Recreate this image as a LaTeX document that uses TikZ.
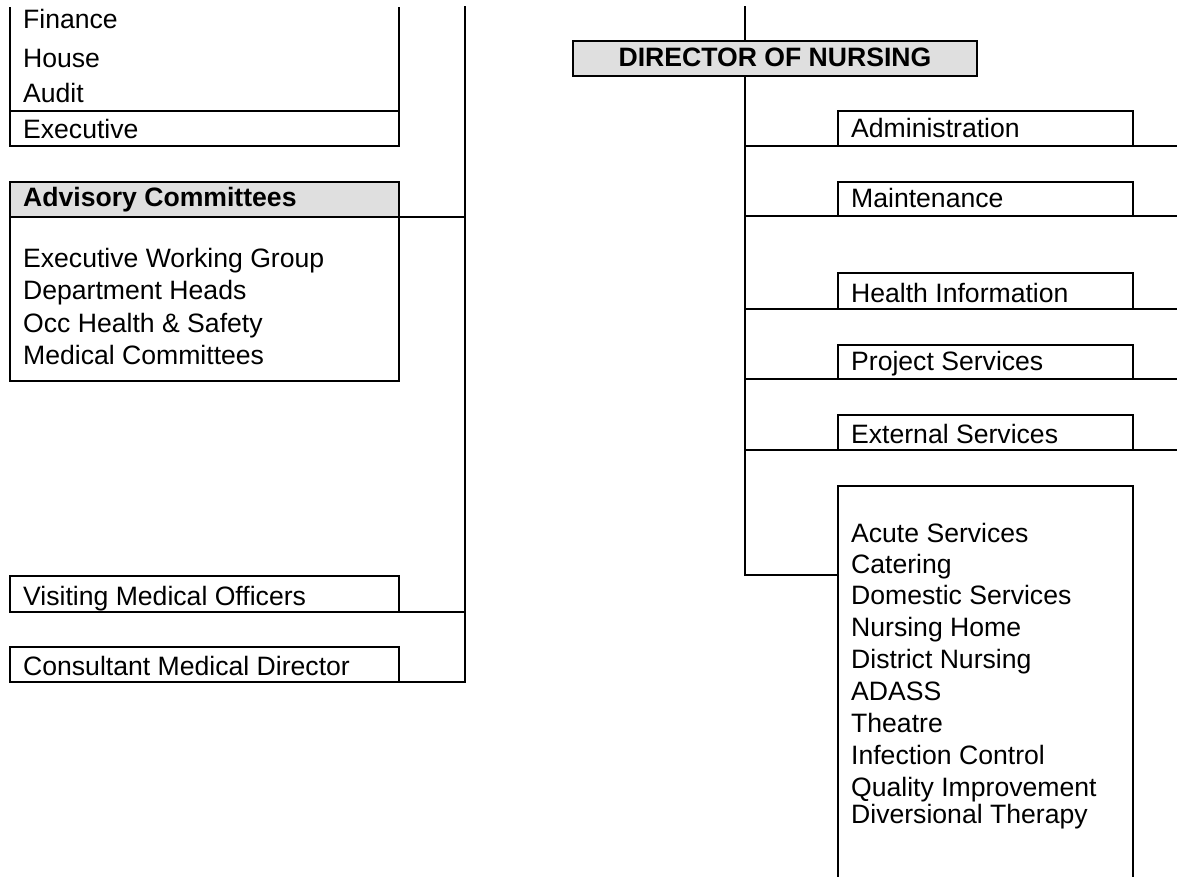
\documentclass[tikz,border=0pt]{standalone}
\usepackage{fontspec}
\setmainfont{Liberation Sans}
\definecolor{headgray}{HTML}{DFDFDF}
\begin{document}
\begin{tikzpicture}[x=1pt,y=-1pt,line width=2.3pt,
  box/.style={draw,rectangle,inner sep=0pt,outer sep=0pt,anchor=north west},
  headbox/.style={box,fill=headgray},
  lbl/.style={anchor=base west,inner sep=0pt,font=\fontsize{26.6}{31}\selectfont},
  blbl/.style={inner sep=0pt,font=\fontsize{26.6}{31}\selectfont\bfseries},
  link/.style={draw,line cap=rect}]
\useasboundingbox (0,0) rectangle (1177,877);
\clip (0,0) rectangle (1177,877);

% ---------- left branch ----------
\coordinate (ltop) at (465,7);
\coordinate (lbot) at (465,682);
\draw[link] (ltop) -- (lbot);

% committees box (top edge runs off the sheet)
\node[box,minimum width=389pt,minimum height=35pt] (exec) at (10,111) {};
\draw (exec.north west) -- ++(0,-104);
\draw (exec.north east) -- ++(0,-104);
\node[lbl] (fin) at (22,29) {Finance};
\node[lbl] (hse) at (22,68) {House};
\node[lbl] (aud) at (22,103) {Audit};
\node[lbl] (exe) at (22,139) {Executive};

% advisory committees
\node[headbox,minimum width=389pt,minimum height=35pt] (advhead) at (10,182) {};
\node[blbl,anchor=base west] (advt) at (22,207) {Advisory Committees};
\node[box,minimum width=389pt,minimum height=164pt] (adv) at (10,217) {};
\node[lbl] (ewg) at (22,267) {Executive Working Group};
\node[lbl] (dh) at (22,299) {Department Heads};
\node[lbl] (ohs) at (22,332) {Occ Health \& Safety};
\node[lbl] (mc) at (22,364) {Medical Committees};
\draw[link] (advhead.south east) -- (advhead.south east -| ltop);

% medical officers
\node[box,minimum width=389pt,minimum height=36pt] (vmo) at (10,576) {};
\node[lbl] (vmot) at (22,605) {Visiting Medical Officers};
\draw[link] (vmo.south east) -- (vmo.south east -| ltop);
\node[box,minimum width=389pt,minimum height=35pt] (cmd) at (10,647) {};
\node[lbl] (cmdt) at (22,675) {Consultant Medical Director};
\draw[link] (cmd.south east) -- (lbot);

% ---------- right branch ----------
\coordinate (rtop) at (745,7);
\coordinate (rbot) at (745,575);
\coordinate (redge) at (1177,0);

\node[headbox,minimum width=404pt,minimum height=35pt] (don) at (573,41) {};
\node[blbl,anchor=base] (dont) at (775,67) {DIRECTOR OF NURSING};
\draw[link] (rtop) -- (rtop |- don.north);
\draw[link] (rtop |- don.south) -- (rbot);

\node[box,minimum width=295pt,minimum height=35pt] (adm) at (838,111) {};
\node[lbl] (admt) at (850,138) {Administration};
\draw[link] (adm.south -| rtop) -- (adm.south -| redge);

\node[box,minimum width=295pt,minimum height=34pt] (mnt) at (838,182) {};
\node[lbl] (mntt) at (850,208) {Maintenance};
\draw[link] (mnt.south -| rtop) -- (mnt.south -| redge);

\node[box,minimum width=295pt,minimum height=36pt] (hin) at (838,273) {};
\node[lbl] (hint) at (850,302) {Health Information};
\draw[link] (hin.south -| rtop) -- (hin.south -| redge);

\node[box,minimum width=295pt,minimum height=34pt] (prj) at (838,345) {};
\node[lbl] (prjt) at (850,370) {Project Services};
\draw[link] (prj.south -| rtop) -- (prj.south -| redge);

\node[box,minimum width=295pt,minimum height=35pt] (ext) at (838,415) {};
\node[lbl] (extt) at (850,443) {External Services};
\draw[link] (ext.south -| rtop) -- (ext.south -| redge);

% services box (bottom edge runs off the sheet)
\node[box,minimum width=295pt,minimum height=420pt] (svc) at (838,486) {};
\draw[link] (rbot) -- (rbot -| svc.west);
\node[lbl] (s1) at (850,542) {Acute Services};
\node[lbl] (s2) at (850,573) {Catering};
\node[lbl] (s3) at (850,604) {Domestic Services};
\node[lbl] (s4) at (850,636) {Nursing Home};
\node[lbl] (s5) at (850,668) {District Nursing};
\node[lbl] (s6) at (850,700) {ADASS};
\node[lbl] (s7) at (850,732) {Theatre};
\node[lbl] (s8) at (850,764) {Infection Control};
\node[lbl] (s9) at (850,796) {Quality Improvement};
\node[lbl] (s10) at (850,823) {Diversional Therapy};
\end{tikzpicture}
\end{document}
